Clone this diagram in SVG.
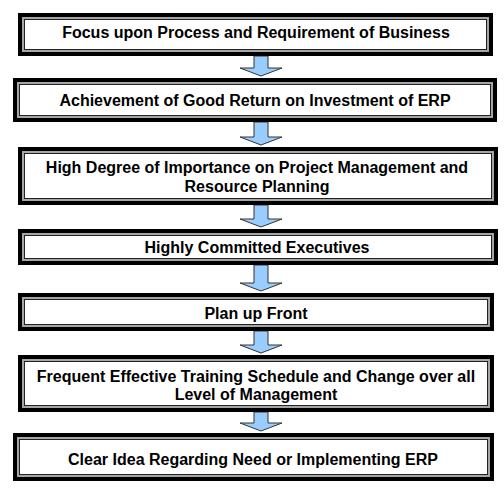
<svg xmlns="http://www.w3.org/2000/svg" width="504" height="488" viewBox="0 0 504 488">
<style>
.o{fill:#000}
.g{fill:#a6a6a6}
.w{fill:#fff;stroke:#222;stroke-width:1}
.t{font-family:"Liberation Sans",Arial,sans-serif;font-weight:bold;font-size:16px;fill:#000;text-anchor:middle}
.a{fill:#99ccff;stroke:#333;stroke-width:1}
</style>
<rect width="504" height="488" fill="#fff"/>
<g id="connectors">
<path class="a" d="M254,56 V68 H240 L261,76 L282,68 H268 V56 Z"/>
<path class="a" d="M254,122 V137 H240 L261,145 L282,137 H268 V122 Z"/>
<path class="a" d="M254,205 V219 H240 L261,227 L282,219 H268 V205 Z"/>
<path class="a" d="M254,265 V283 H240 L261,291 L282,283 H268 V265 Z"/>
<path class="a" d="M254,331 V345 H240 L261,353 L282,345 H268 V331 Z"/>
<path class="a" d="M254,412 V423 H240 L261,431 L282,423 H268 V412 Z"/>
</g>
<g id="n1">
<rect class="o" x="18" y="13" width="475" height="43"/>
<rect class="g" x="22" y="17" width="467" height="35"/>
<rect class="w" x="24.5" y="19.5" width="462" height="30"/>
<text class="t" x="256" y="38">Focus upon Process and Requirement of Business</text>
</g>
<g id="n2">
<rect class="o" x="13" y="78" width="484" height="44"/>
<rect class="g" x="17" y="82" width="476" height="36"/>
<rect class="w" x="19.5" y="84.5" width="471" height="31"/>
<text class="t" x="255" y="106">Achievement of Good Return on Investment of ERP</text>
</g>
<g id="n3">
<rect class="o" x="18" y="147" width="480" height="58"/>
<rect class="g" x="22" y="151" width="472" height="50"/>
<rect class="w" x="24.5" y="153.5" width="467" height="45"/>
<text class="t" x="257" y="173">High Degree of Importance on Project Management and</text>
<text class="t" x="257" y="192">Resource Planning</text>
</g>
<g id="n4">
<rect class="o" x="18" y="229" width="480" height="36"/>
<rect class="g" x="22" y="233" width="472" height="28"/>
<rect class="w" x="24.5" y="235.5" width="467" height="23"/>
<text class="t" x="257" y="253">Highly Committed Executives</text>
</g>
<g id="n5">
<rect class="o" x="18" y="293" width="476" height="38"/>
<rect class="g" x="22" y="297" width="468" height="30"/>
<rect class="w" x="24.5" y="299.5" width="463" height="25"/>
<text class="t" x="256" y="319">Plan up Front</text>
</g>
<g id="n6">
<rect class="o" x="18" y="355" width="476" height="57"/>
<rect class="g" x="22" y="359" width="468" height="49"/>
<rect class="w" x="24.5" y="361.5" width="463" height="44"/>
<text class="t" x="256" y="382">Frequent Effective  Training Schedule and Change over all</text>
<text class="t" x="256" y="400">Level of Management</text>
</g>
<g id="n7">
<rect class="o" x="13" y="433" width="481" height="48"/>
<rect class="g" x="17" y="437" width="473" height="40"/>
<rect class="w" x="19.5" y="439.5" width="468" height="35"/>
<text class="t" x="253" y="465">Clear Idea Regarding Need or Implementing ERP</text>
</g>
</svg>
